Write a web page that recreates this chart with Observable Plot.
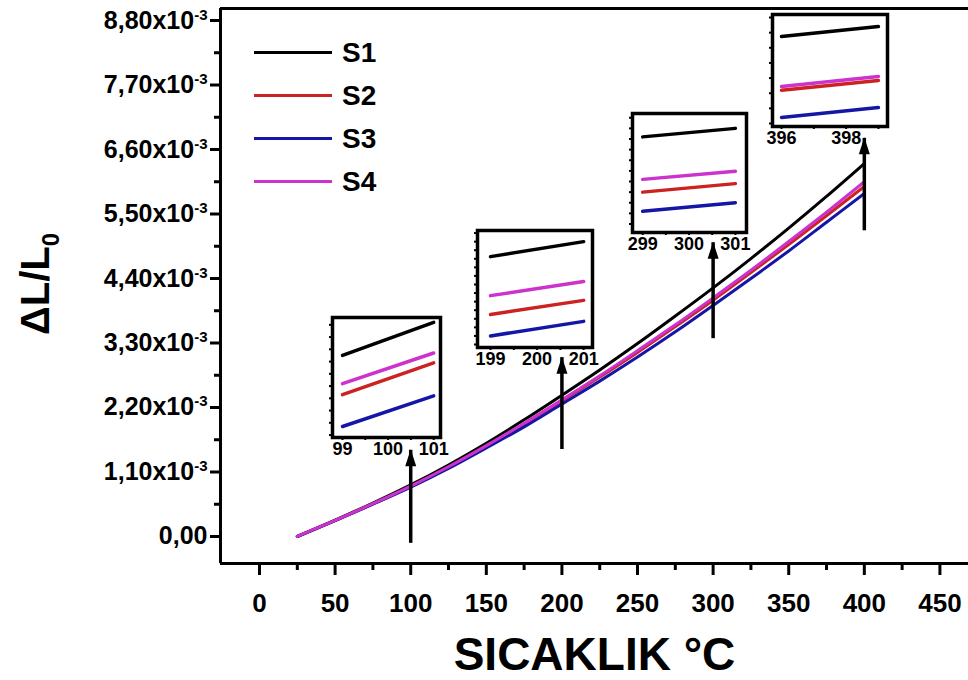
<!DOCTYPE html>
<html><head><meta charset="utf-8">
<script src="https://cdn.jsdelivr.net/npm/d3@7"></script>
<script src="https://cdn.jsdelivr.net/npm/@observablehq/plot@0.6"></script>
<style>
body{margin:0;background:#fff;}
#wrap{position:relative;width:968px;height:680px;overflow:hidden;font-family:"Liberation Sans",Arial,sans-serif;background:#fff;}
#wrap svg{position:absolute;}
.legend{position:absolute;left:254px;top:31px;}
.row{display:flex;align-items:center;height:43px;}
.swatch{width:78px;height:3px;margin-right:10px;}
.lab{font-weight:bold;font-size:28px;color:#000;}
</style></head><body><div id="wrap"></div>
<script>
// ---- data (values in units of 10^-3) ----
const temps = [25, 50, 75, 100, 125, 150, 175, 200, 225, 250, 275, 300, 325, 350, 375, 400];
const S1 = [0, 0.28, 0.57, 0.88, 1.22, 1.59, 1.99, 2.41, 2.84, 3.29, 3.76, 4.24, 4.74, 5.26, 5.80, 6.36];
const S2 = [0, 0.272, 0.555, 0.85, 1.18, 1.53, 1.91, 2.31, 2.72, 3.14, 3.58, 4.03, 4.50, 4.98, 5.47, 5.97];
const S3 = [0, 0.27, 0.55, 0.84, 1.16, 1.51, 1.87, 2.26, 2.65, 3.06, 3.49, 3.94, 4.40, 4.87, 5.36, 5.85];
const S4 = [0, 0.275, 0.56, 0.86, 1.19, 1.55, 1.93, 2.33, 2.74, 3.17, 3.61, 4.07, 4.54, 5.03, 5.53, 6.05];
const seriesNames = ["S1", "S2", "S3", "S4"];
const seriesColors = ["#000000", "#cc2222", "#1616a6", "#cc33cc"];
const yTicks = [0, 1.1, 2.2, 3.3, 4.4, 5.5, 6.6, 7.7, 8.8];
const yTickLabels = ["0,00", "1,10x10", "2,20x10", "3,30x10", "4,40x10", "5,50x10", "6,60x10", "7,70x10", "8,80x10"];
const yMinor = [0.55, 1.65, 2.75, 3.85, 4.95, 6.05, 7.15, 8.25];
const xTicks = [0, 50, 100, 150, 200, 250, 300, 350, 400, 450];
const xMinor = [25, 75, 125, 175, 225, 275, 325, 375, 425];
const arrowTemps = [100, 200, 300, 400];
const arrowFrom = [0.02, 1.62, 3.51, 5.35];
const arrowTo = [1.47, 3.05, 5.01, 6.79];

// insets
const inset1 = {xs: [99, 101], S1: [0.855, 0.882], S2: [0.823, 0.849], S3: [0.797, 0.822], S4: [0.832, 0.857],
  xDomain: [98.78, 101.15], yDomain: [0.788, 0.886], ticks: [99, 100, 101], minor: [99.5, 100.5]};
const inset2 = {xs: [199, 201], S1: [2.385, 2.42], S2: [2.25, 2.283], S3: [2.20, 2.234], S4: [2.294, 2.327],
  xDomain: [198.72, 201.19], yDomain: [2.173, 2.446], ticks: [199, 200, 201], minor: [199.5, 200.5]};
const inset3 = {xs: [299, 301], S1: [4.21, 4.25], S2: [3.95, 3.99], S3: [3.86, 3.90], S4: [4.01, 4.048],
  xDomain: [298.78, 301.24], yDomain: [3.76, 4.32], ticks: [299, 300, 301], minor: [299.5, 300.5]};
const inset4 = {xs: [396, 399], S1: [6.274, 6.34], S2: [5.92, 5.984], S3: [5.74, 5.805], S4: [5.944, 6.01],
  xDomain: [395.72, 399.28], yDomain: [5.68, 6.42], ticks: [396, 398], minor: [397, 399]};
const insetBoxes = [
  {cfg: inset1, left: 332, top: 317, w: 108, h: 120},
  {cfg: inset2, left: 477, top: 230, w: 115, h: 117},
  {cfg: inset3, left: 632, top: 113, w: 114, h: 119},
  {cfg: inset4, left: 772, top: 14, w: 115, h: 112}
];

// ---- build ----
const FONT = "Liberation Sans, Arial, sans-serif";
const seriesVals = [S1, S2, S3, S4];
const rows = [];
seriesNames.forEach((s, i) => temps.forEach((t, j) => rows.push({t, v: seriesVals[i][j], s})));
const arrows = arrowTemps.map((t, i) => ({t, from: arrowFrom[i], to: arrowTo[i]}));
const arrowHead = {draw(ctx) { ctx.moveTo(0, -1); ctx.lineTo(5.5, 16); ctx.lineTo(-5.5, 16); ctx.closePath(); }};
const xD = [-25.8, 468.9], yD = [-0.4605, 9.0047];

const main = Plot.plot({
  width: 968, height: 680,
  marginLeft: 220, marginRight: 0, marginTop: 8, marginBottom: 117,
  x: {domain: xD, label: null},
  y: {domain: yD, label: null},
  color: {domain: seriesNames, range: seriesColors},
  style: {fontFamily: FONT, background: "transparent", color: "#000", overflow: "visible"},
  marks: [
    Plot.line(rows, {x: "t", y: "v", z: "s", stroke: "s", strokeWidth: 3, curve: "monotone-x"}),
    Plot.ruleX(arrows, {x: "t", y1: "from", y2: "to", strokeWidth: 3.5, insetTop: 8, stroke: "#000"}),
    Plot.dot(arrows, {x: "t", y: "to", symbol: arrowHead, fill: "#000", stroke: "none"}),
    Plot.ruleX([xD[0]], {strokeWidth: 3, stroke: "#000"}),
    Plot.ruleY(yD, {strokeWidth: 3, stroke: "#000"}),
    Plot.axisY(yTicks, {tickSize: 10, tickPadding: 3, strokeWidth: 3, label: null, fontSize: 25, fontWeight: "bold",
      tickFormat: d => yTickLabels[yTicks.indexOf(d)]}),
    Plot.axisY(yMinor, {tickSize: 6, strokeWidth: 3, label: null, tickFormat: () => ""}),
    Plot.axisX(xTicks, {tickSize: 12, tickPadding: 18, strokeWidth: 3, label: null, fontSize: 26, fontWeight: "bold"}),
    Plot.axisX(xMinor, {tickSize: 7, strokeWidth: 3, label: null, tickFormat: () => ""}),
    Plot.text(["SICAKLIK °C"], {text: d => d, frameAnchor: "bottom", dy: 92, lineAnchor: "middle", fontSize: 46, fontWeight: "bold"}),
    Plot.text(["ΔL/L"], {text: d => d, frameAnchor: "left", dx: -184, dy: -2, rotate: -90, textAnchor: "middle", lineAnchor: "middle",
      fontSize: 40, fontWeight: "bold"})
  ]
});
const wrap = document.getElementById("wrap");
main.style.left = "0px"; main.style.top = "0px";
wrap.appendChild(main);

// superscripts / subscripts
d3.select(main).selectAll("text").each(function () {
  const t = this.textContent;
  if (t.endsWith("x10")) {
    d3.select(this).append("tspan").attr("dy", "-0.6em").attr("font-size", "0.6em").text("-3");
  } else if (t === "ΔL/L") {
    d3.select(this).append("tspan").attr("dy", "0.4em").attr("font-size", "0.6em").text("0");
  }
});

// insets
const mL = 6, mR = 16, mT = 3, mB = 28;
insetBoxes.forEach(b => {
  const c = b.cfg;
  const irows = [];
  seriesNames.forEach((s, i) => c.xs.forEach((x, j) => irows.push({x, v: c[s][j], s})));
  const yMin = d3.ticks(c.yDomain[0], c.yDomain[1], 9);
  const p = Plot.plot({
    width: b.w + mL + mR, height: b.h + mT + mB,
    marginLeft: mL, marginRight: mR, marginTop: mT, marginBottom: mB,
    x: {domain: c.xDomain, label: null},
    y: {domain: c.yDomain, label: null},
    color: {domain: seriesNames, range: seriesColors},
    style: {fontFamily: FONT, background: "transparent", color: "#000", overflow: "visible"},
    marks: [
      Plot.frame({fill: "white", stroke: "none"}),
      Plot.line(irows, {x: "x", y: "v", z: "s", stroke: "s", strokeWidth: 3.5}),
      Plot.frame({stroke: "#000", strokeWidth: 3.5}),
      Plot.axisY(yMin, {tickSize: 3, strokeWidth: 2, label: null, tickFormat: () => ""}),
      Plot.axisX(c.ticks, {tickSize: 3, tickPadding: 2, strokeWidth: 2, label: null, fontSize: 18, fontWeight: "bold"}),
      Plot.axisX(c.minor, {tickSize: 3, strokeWidth: 2, label: null, tickFormat: () => ""})
    ]
  });
  p.style.left = (b.left - mL) + "px";
  p.style.top = (b.top - mT) + "px";
  wrap.appendChild(p);
});

// legend
const leg = document.createElement("div");
leg.className = "legend";
seriesNames.forEach((s, i) => {
  const r = document.createElement("div"); r.className = "row";
  const sw = document.createElement("div"); sw.className = "swatch"; sw.style.background = seriesColors[i];
  const lb = document.createElement("span"); lb.className = "lab"; lb.textContent = s;
  r.appendChild(sw); r.appendChild(lb); leg.appendChild(r);
});
wrap.appendChild(leg);
</script></body></html>
